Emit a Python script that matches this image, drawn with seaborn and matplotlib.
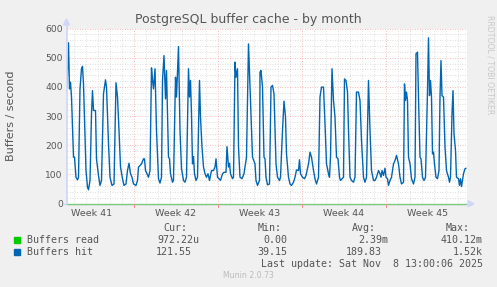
import matplotlib
matplotlib.use("Agg")
import matplotlib.pyplot as plt
import seaborn as sns
import pandas as pd
from matplotlib.patches import Polygon, Rectangle

# ---------------- data ----------------
hours = [0, 3, 5, 7, 9, 13, 15, 18, 21, 23, 26, 29, 31, 33, 36, 38, 41, 43, 46, 49, 51, 53, 57, 59, 63, 66, 69,
         73, 77, 79, 83, 86, 90, 94, 98, 101, 104, 107, 111, 114, 118, 121, 124, 127, 130, 133, 138, 141, 143,
         146, 149, 153, 155, 157, 160, 163, 166, 169, 171, 173, 176, 179, 183, 186, 189, 191, 194, 197, 199,
         203, 205, 207, 211, 213, 217, 219, 223, 226, 229, 233, 236, 239, 243, 245, 247, 249, 251, 253, 255,
         258, 261, 265, 267, 270, 273, 276, 279, 282, 285, 289, 293, 296, 298, 301, 304, 307, 311, 314, 318,
         320, 323, 325, 327, 331, 333, 336, 338, 341, 343, 346, 350, 354, 359, 363, 366, 371, 376, 378, 381,
         385, 386, 388, 391, 394, 396, 398, 401, 405, 408, 411, 414, 416, 418, 421, 425, 427, 431, 434, 437,
         439, 443, 446, 449, 453, 456, 459, 463, 465, 467, 471, 475, 478, 483, 486, 489, 493, 496, 499, 503,
         506, 509, 513, 516, 519, 523, 525, 527, 530, 533, 536, 539, 542, 545, 547, 553, 555, 558, 561, 563,
         566, 569, 573, 576, 579, 583, 586, 589, 593, 596, 599, 603, 606, 609, 613, 616, 619, 623, 626, 628,
         630, 633, 636, 638, 641, 643, 646, 649, 653, 656, 659, 663, 666, 669, 673, 675, 677, 679, 681, 683,
         686, 689, 693, 696, 698, 701, 703, 706, 708, 711, 714, 717, 721, 723, 725, 727, 729, 731, 733, 735,
         738, 741, 744, 746, 748, 750, 753, 756, 759, 763, 765, 767, 770, 772, 774, 777, 779, 783, 785, 787,
         789, 793, 796, 798]
buffers_hit = [399, 551, 393, 416, 365, 159, 159, 90, 81, 90, 393, 462, 470, 410, 227, 113, 56, 47, 79, 307, 387,
               319, 319, 153, 96, 62, 79, 376, 424, 399, 205, 90, 62, 67, 414, 365, 250, 125, 85, 62, 67, 113,
               138, 102, 90, 67, 62, 79, 125, 130, 136, 153, 153, 113, 102, 90, 113, 465, 422, 393, 462, 250, 85,
               70, 90, 422, 507, 359, 456, 159, 153, 102, 73, 79, 433, 365, 538, 250, 119, 79, 73, 90, 462, 365,
               422, 307, 136, 161, 102, 79, 90, 422, 296, 193, 125, 102, 90, 102, 79, 113, 113, 125, 153, 90, 85,
               79, 102, 107, 107, 195, 125, 138, 102, 85, 90, 485, 433, 462, 193, 90, 85, 102, 159, 547, 399, 159,
               136, 79, 62, 79, 450, 456, 399, 159, 153, 90, 64, 67, 399, 405, 376, 262, 136, 90, 79, 90, 250, 351,
               296, 170, 90, 67, 62, 73, 90, 115, 113, 150, 102, 90, 85, 96, 136, 176, 159, 113, 85, 67, 90, 365,
               399, 399, 273, 136, 102, 90, 159, 462, 353, 296, 159, 153, 90, 79, 90, 427, 422, 382, 250, 90, 79,
               73, 90, 382, 382, 353, 216, 90, 73, 90, 422, 250, 113, 79, 79, 90, 113, 102, 90, 113, 96, 121, 90,
               85, 62, 79, 90, 136, 147, 165, 136, 90, 67, 73, 410, 353, 382, 353, 159, 136, 85, 67, 90, 513, 519,
               365, 159, 153, 90, 79, 90, 387, 568, 370, 422, 365, 170, 176, 136, 90, 85, 113, 365, 490, 370, 365,
               193, 113, 90, 73, 90, 307, 387, 239, 182, 90, 85, 62, 85, 58, 102, 119, 121]
read_hours = [0, 798]
buffers_read = [0.0, 0.0]

week_labels = ["Week 41", "Week 42", "Week 43", "Week 44", "Week 45"]
series_names = ["Buffers read", "Buffers hit"]
cur_vals = ["972.22u", "121.55"]
min_vals = ["0.00", "39.15"]
avg_vals = ["2.39m", "189.83"]
max_vals = ["410.12m", "1.52k"]
title = "PostgreSQL buffer cache - by month"
ylabel = "Buffers / second"
last_update = "Last update: Sat Nov  8 13:00:06 2025"

df_hit = pd.DataFrame({"hours": hours, "value": buffers_hit})
df_read = pd.DataFrame({"hours": read_hours, "value": buffers_read})

# ---------------- style ----------------
sns.set_theme(style="white")
plt.rcParams["font.family"] = ["DejaVu Sans"]
FONT = "#555555"
W, H = 497, 287

fig = plt.figure(figsize=(W / 100, H / 100), dpi=100, facecolor="#F0F0F0")
L, R, T, B = 67, 467, 28.5, 203.5
ax = fig.add_axes([L / W, 1 - B / H, (R - L) / W, (B - T) / H])
ax.set_facecolor("white")

# grid
GRID_LS = (0, (1, 2))
week_lines = [134, 302, 470, 638]
day_lines = [h for h in range(14, 800, 24) if h not in week_lines]
for h in day_lines:
    ax.axvline(h, color="#A8A8A8", alpha=0.5, lw=0.6, ls=GRID_LS, zorder=0)
for h in week_lines:
    ax.axvline(h, color="#EE3333", alpha=0.45, lw=0.6, ls=GRID_LS, zorder=0)
for v in range(20, 600, 20):
    if v % 100:
        ax.axhline(v, color="#A8A8A8", alpha=0.5, lw=0.6, ls=GRID_LS, zorder=0)
for v in range(100, 601, 100):
    ax.axhline(v, color="#EE3333", alpha=0.45, lw=0.6, ls=GRID_LS, zorder=0)

sns.lineplot(data=df_hit, x="hours", y="value", color="#0066B3", lw=1.0, ax=ax, zorder=3)
sns.lineplot(data=df_read, x="hours", y="value", color="#7CCB7C", lw=1.0, ax=ax, zorder=4, clip_on=False)

ax.set_xlim(0, 800)
ax.set_ylim(0, 600)
ax.set_xlabel("")
ax.set_ylabel("")
for s in ax.spines.values():
    s.set_visible(False)
ax.set_yticks(range(0, 601, 100))
ax.set_yticklabels([str(v) for v in range(0, 601, 100)], fontsize=6.6, color=FONT)
ax.set_xticks([50, 218, 386, 554, 722])
ax.set_xticklabels(week_labels, fontsize=6.8, color=FONT)
ax.tick_params(axis="both", length=0, pad=3)
ax.tick_params(axis="x", pad=4)

# axis lines and arrows (figure pixel coords)
def px(x, y):
    return (x / W, 1 - y / H)

axis_col = "#CFD6F8"
fig.add_artist(plt.Line2D([px(66.5, 0)[0]] * 2, [px(0, 203.5)[1], px(0, 24)[1]], color=axis_col, lw=1.2,
                          transform=fig.transFigure))
fig.add_artist(plt.Line2D([px(64, 0)[0], px(470, 0)[0]], [px(0, 203.8)[1]] * 2, color=axis_col, lw=1.0,
                          transform=fig.transFigure, zorder=0))
fig.add_artist(Polygon([px(63.5, 25), px(69.5, 25), px(66.5, 19)], closed=True, color=axis_col,
                       transform=fig.transFigure))
fig.add_artist(Polygon([px(468, 200.8), px(468, 206.8), px(474, 203.8)], closed=True, color=axis_col,
                       transform=fig.transFigure))
# small tick marks below the axis at week boundaries
for xp in [134, 218, 302, 386]:
    fig.add_artist(plt.Line2D([px(xp, 0)[0]] * 2, [px(0, 204)[1], px(0, 206.5)[1]], color="#EE8888", lw=0.7,
                              transform=fig.transFigure))

# texts
fig.text(248.5 / W, 1 - 19 / H, title, ha="center", va="center", fontsize=9, color=FONT)
fig.text(11 / W, 1 - 115.5 / H, ylabel, ha="center", va="center", rotation=90, fontsize=8, color=FONT)
fig.text(490 / W, 1 - 15 / H, "RRDTOOL / TOBI OETIKER", ha="center", va="top", rotation=270,
         fontsize=5.6, color="#C8C8C8")

mono = dict(family="DejaVu Sans Mono", fontsize=7.2, color=FONT, va="center")
fig.text(187 / W, 1 - 228 / H, "Cur:", ha="right", **mono)
fig.text(282 / W, 1 - 228 / H, "Min:", ha="right", **mono)
fig.text(376 / W, 1 - 228 / H, "Avg:", ha="right", **mono)
fig.text(470 / W, 1 - 228 / H, "Max:", ha="right", **mono)

rows_y = [240, 252]
colors = ["#00CC00", "#0066B3"]
cur_x = [199, 192]
avg_x = [388, 382]
for i in range(2):
    y = rows_y[i]
    fig.add_artist(Rectangle(px(14, y + 3), 6 / W, 6 / H, color=colors[i], transform=fig.transFigure))
    fig.text(27 / W, 1 - y / H, series_names[i], ha="left", **mono)
    fig.text(cur_x[i] / W, 1 - y / H, cur_vals[i], ha="right", **mono)
    fig.text(287 / W, 1 - y / H, min_vals[i], ha="right", **mono)
    fig.text(avg_x[i] / W, 1 - y / H, avg_vals[i], ha="right", **mono)
    fig.text(483 / W, 1 - y / H, max_vals[i], ha="right", **mono)

fig.text(483 / W, 1 - 264 / H, last_update, ha="right", **mono)
fig.text(248 / W, 1 - 276 / H, "Munin 2.0.73", ha="center", va="center", fontsize=5.6, color="#BBBBBB")

fig.savefig("out.png", dpi=100, facecolor=fig.get_facecolor())
